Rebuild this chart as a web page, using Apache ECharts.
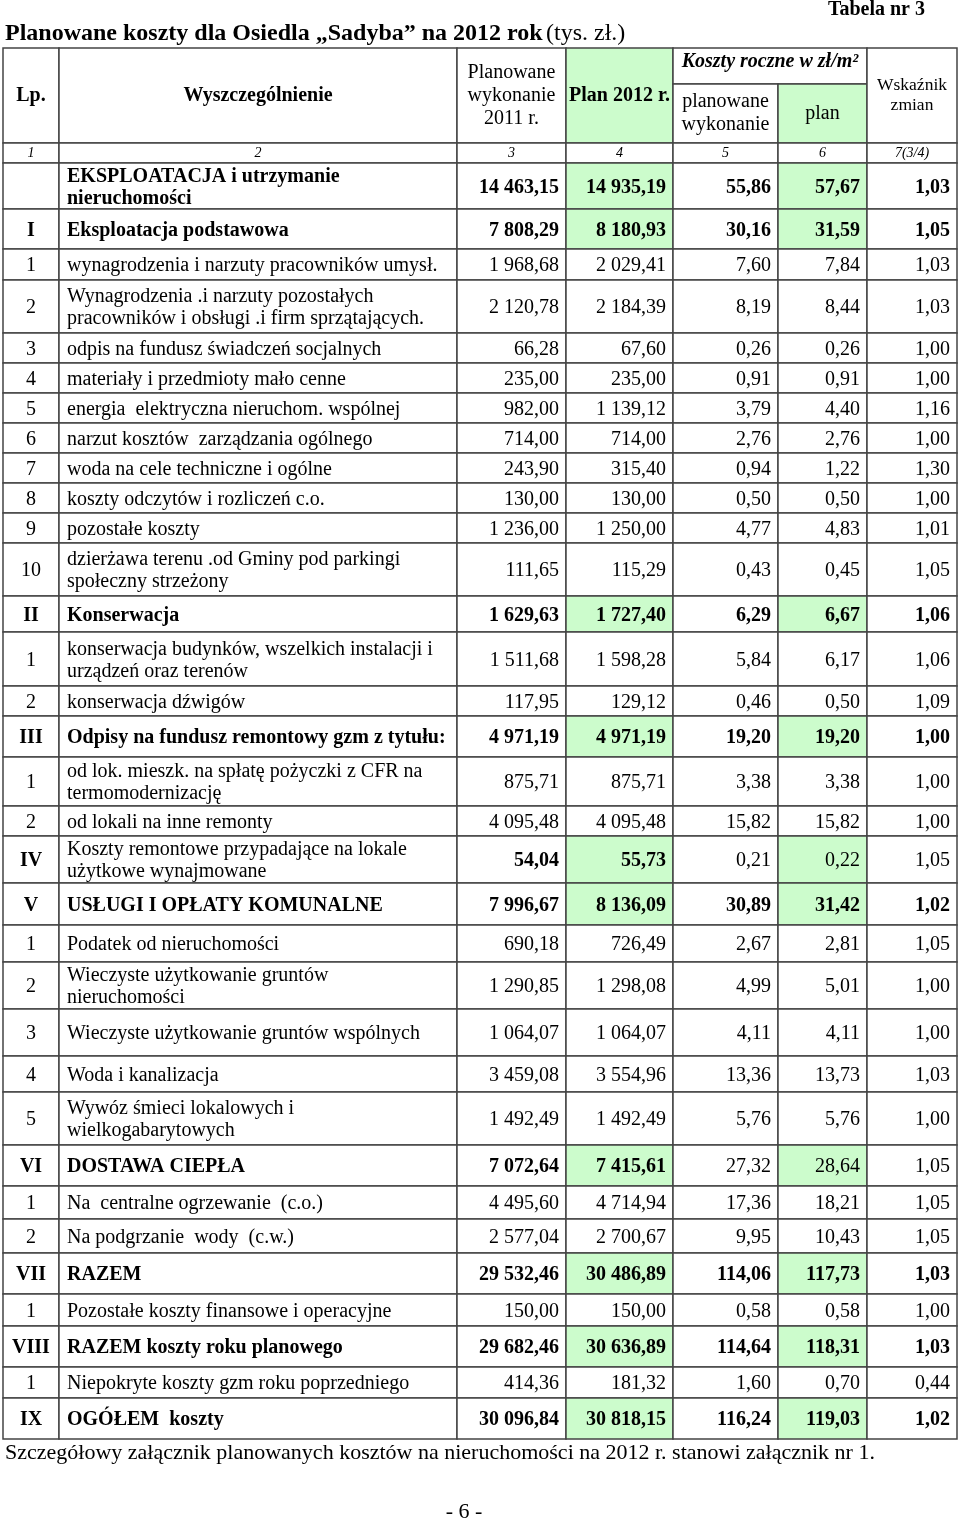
<!DOCTYPE html>
<html>
<head>
<meta charset="utf-8">
<title>Planowane koszty - Sadyba 2012</title>
<script src="https://cdn.jsdelivr.net/npm/echarts@6/dist/echarts.min.js"></script>
<style>
  html, body { margin: 0; padding: 0; background: #fff; }
  #chart { width: 960px; height: 1521px; }
</style>
</head>
<body>
<div id="chart"></div>
<script>
// --- data (tys. zł / zł/m²) ---
const lpLabels = ['', 'I', '1', '2', '3', '4', '5', '6', '7', '8', '9', '10',
  'II', '1', '2', 'III', '1', '2', 'IV', 'V', '1', '2', '3', '4', '5',
  'VI', '1', '2', 'VII', '1', 'VIII', '1', 'IX']

const itemNames = [
  'EKSPLOATACJA i utrzymanie\nnieruchomości',
  'Eksploatacja podstawowa',
  'wynagrodzenia i narzuty pracowników umysł.',
  'Wynagrodzenia .i narzuty pozostałych\npracowników i obsługi .i firm sprzątających.',
  'odpis na fundusz świadczeń socjalnych',
  'materiały i przedmioty mało cenne',
  'energia  elektryczna nieruchom. wspólnej',
  'narzut kosztów  zarządzania ogólnego',
  'woda na cele techniczne i ogólne',
  'koszty odczytów i rozliczeń c.o.',
  'pozostałe koszty',
  'dzierżawa terenu .od Gminy pod parkingi\nspołeczny strzeżony',
  'Konserwacja',
  'konserwacja budynków, wszelkich instalacji i\nurządzeń oraz terenów',
  'konserwacja dźwigów',
  'Odpisy na fundusz remontowy gzm z tytułu:',
  'od lok. mieszk. na spłatę pożyczki z CFR na\ntermomodernizację',
  'od lokali na inne remonty',
  'Koszty remontowe przypadające na lokale\nużytkowe wynajmowane',
  'USŁUGI I OPŁATY KOMUNALNE',
  'Podatek od nieruchomości',
  'Wieczyste użytkowanie gruntów\nnieruchomości',
  'Wieczyste użytkowanie gruntów wspólnych',
  'Woda i kanalizacja',
  'Wywóz śmieci lokalowych i\nwielkogabarytowych',
  'DOSTAWA CIEPŁA',
  'Na  centralne ogrzewanie  (c.o.)',
  'Na podgrzanie  wody  (c.w.)',
  'RAZEM',
  'Pozostałe koszty finansowe i operacyjne',
  'RAZEM koszty roku planowego',
  'Niepokryte koszty gzm roku poprzedniego',
  'OGÓŁEM  koszty'
]

const planned2011 = [14463.15, 7808.29, 1968.68, 2120.78, 66.28, 235.00, 982.00, 714.00, 243.90, 130.00, 1236.00, 111.65,
  1629.63, 1511.68, 117.95, 4971.19, 875.71, 4095.48, 54.04, 7996.67, 690.18, 1290.85, 1064.07, 3459.08, 1492.49,
  7072.64, 4495.60, 2577.04, 29532.46, 150.00, 29682.46, 414.36, 30096.84]

const plan2012 = [14935.19, 8180.93, 2029.41, 2184.39, 67.60, 235.00, 1139.12, 714.00, 315.40, 130.00, 1250.00, 115.29,
  1727.40, 1598.28, 129.12, 4971.19, 875.71, 4095.48, 55.73, 8136.09, 726.49, 1298.08, 1064.07, 3554.96, 1492.49,
  7415.61, 4714.94, 2700.67, 30486.89, 150.00, 30636.89, 181.32, 30818.15]

const perM2Planned = [55.86, 30.16, 7.60, 8.19, 0.26, 0.91, 3.79, 2.76, 0.94, 0.50, 4.77, 0.43,
  6.29, 5.84, 0.46, 19.20, 3.38, 15.82, 0.21, 30.89, 2.67, 4.99, 4.11, 13.36, 5.76,
  27.32, 17.36, 9.95, 114.06, 0.58, 114.64, 1.60, 116.24]

const perM2Plan = [57.67, 31.59, 7.84, 8.44, 0.26, 0.91, 4.40, 2.76, 1.22, 0.50, 4.83, 0.45,
  6.67, 6.17, 0.50, 19.20, 3.38, 15.82, 0.22, 31.42, 2.81, 5.01, 4.11, 13.73, 5.76,
  28.64, 18.21, 10.43, 117.73, 0.58, 118.31, 0.70, 119.03]

const changeIndex = [1.03, 1.05, 1.03, 1.03, 1.00, 1.00, 1.16, 1.00, 1.30, 1.00, 1.01, 1.05,
  1.06, 1.06, 1.09, 1.00, 1.00, 1.00, 1.05, 1.02, 1.05, 1.00, 1.00, 1.03, 1.00,
  1.05, 1.05, 1.05, 1.03, 1.00, 1.03, 0.44, 1.02]

// row kind -> which columns are bold (S = section total)
const rowKinds = ['S', 'S', 'n', 'n', 'n', 'n', 'n', 'n', 'n', 'n', 'n', 'n',
  'S', 'n', 'n', 'S', 'n', 'n', 'IV', 'S', 'n', 'n', 'n', 'n', 'n',
  'VI', 'n', 'n', 'S', 'n', 'S', 'n', 'S']

const columnNumbers = ['1', '2', '3', '4', '5', '6', '7(3/4)']

// --- layout / style ---
const FONT = '"Liberation Serif", "Times New Roman", serif'
const GREEN = '#ccfccc'
const BORDER = '#444'
const COL_X = [3, 59, 457, 566, 673, 778, 867, 957]
const HEAD_Y = [48, 84, 143, 163]
const ROW_H = [46, 40, 31, 53, 30, 30, 30, 30, 30, 30, 30, 53, 36, 54, 30, 41, 49, 30, 47, 42, 37, 47, 47, 36, 53, 41, 33, 34, 41, 32, 41, 31, 41]
const BOLD = {
  S: [1, 1, 1, 1, 1, 1, 1],
  IV: [1, 0, 1, 1, 0, 0, 0],
  VI: [1, 1, 1, 1, 0, 0, 0],
  n: [0, 0, 0, 0, 0, 0, 0]
}

function fmt (v) {
  const parts = v.toFixed(2).split('.')
  return parts[0].replace(/\B(?=(\d{3})+(?!\d))/g, ' ') + ',' + parts[1]
}

let rowData = []
let y = HEAD_Y[3]
ROW_H.forEach((h, i) => {
  rowData.push([i, y, y + h])
  y += h
})

function cellRect (api, x0, y0, x1, y1, fill) {
  const p0 = api.coord([x0, y0])
  const p1 = api.coord([x1, y1])
  return {
    type: 'rect',
    shape: { x: p0[0], y: p0[1], width: p1[0] - p0[0], height: p1[1] - p0[1] },
    style: { fill: fill || '#fff', stroke: BORDER, lineWidth: 1.5 }
  }
}

function cellText (api, text, x, y, opts) {
  const p = api.coord([x, y])
  return {
    type: 'text',
    style: Object.assign({
      text: text,
      x: p[0],
      y: p[1],
      align: 'center',
      verticalAlign: 'middle',
      fontFamily: FONT,
      fontSize: 20,
      fontWeight: 'normal',
      lineHeight: 22,
      fill: '#000'
    }, opts)
  }
}

function renderHeader (params, api) {
  const X = COL_X
  const Y = HEAD_Y
  const mid = (a, b) => (a + b) / 2
  const ch = []
  ch.push(cellRect(api, X[0], Y[0], X[1], Y[2]))
  ch.push(cellRect(api, X[1], Y[0], X[2], Y[2]))
  ch.push(cellRect(api, X[2], Y[0], X[3], Y[2]))
  ch.push(cellRect(api, X[3], Y[0], X[4], Y[2], GREEN))
  ch.push(cellRect(api, X[4], Y[0], X[6], Y[1]))
  ch.push(cellRect(api, X[4], Y[1], X[5], Y[2]))
  ch.push(cellRect(api, X[5], Y[1], X[6], Y[2], GREEN))
  ch.push(cellRect(api, X[6], Y[0], X[7], Y[2]))
  ch.push(cellText(api, 'Lp.', mid(X[0], X[1]), mid(Y[0], Y[2]), { fontWeight: 'bold' }))
  ch.push(cellText(api, 'Wyszczególnienie', mid(X[1], X[2]), mid(Y[0], Y[2]), { fontWeight: 'bold' }))
  ch.push(cellText(api, 'Planowane\nwykonanie\n2011 r.', mid(X[2], X[3]), mid(Y[0], Y[2]), { lineHeight: 23 }))
  ch.push(cellText(api, 'Plan 2012 r.', mid(X[3], X[4]), mid(Y[0], Y[2]), { fontWeight: 'bold' }))
  ch.push(cellText(api, 'Koszty roczne w zł/m²', mid(X[4], X[6]), mid(Y[0], Y[1]) - 4, { fontWeight: 'bold', fontStyle: 'italic' }))
  ch.push(cellText(api, 'planowane\nwykonanie', mid(X[4], X[5]), mid(Y[1], Y[2]), { lineHeight: 23 }))
  ch.push(cellText(api, 'plan', mid(X[5], X[6]), mid(Y[1], Y[2])))
  ch.push(cellText(api, 'Wskaźnik\nzmian', mid(X[6], X[7]), mid(Y[0], Y[2]), { fontSize: 17.5, lineHeight: 20 }))
  // column number row
  for (let c = 0; c < 7; c++) {
    ch.push(cellRect(api, X[c], Y[2], X[c + 1], Y[3]))
    ch.push(cellText(api, columnNumbers[c], mid(X[c], X[c + 1]), mid(Y[2], Y[3]), { fontSize: 14, fontStyle: 'italic' }))
  }
  return { type: 'group', children: ch }
}

function renderRow (params, api) {
  const i = api.value(0)
  const top = api.value(1)
  const bottom = api.value(2)
  const kind = rowKinds[i]
  const bold = BOLD[kind]
  const cells = [lpLabels[i], itemNames[i], fmt(planned2011[i]), fmt(plan2012[i]),
    fmt(perM2Planned[i]), fmt(perM2Plan[i]), fmt(changeIndex[i])]
  // text sits a touch below the geometric middle, as in the scan
  const cy = (top + bottom) / 2 + 1.5
  const ch = []
  for (let c = 0; c < 7; c++) {
    const green = kind !== 'n' && (c === 3 || c === 5)
    ch.push(cellRect(api, COL_X[c], top, COL_X[c + 1], bottom, green ? GREEN : null))
    let tx, align
    if (c === 0) {
      tx = (COL_X[0] + COL_X[1]) / 2
      align = 'center'
    } else if (c === 1) {
      tx = COL_X[1] + 8
      align = 'left'
    } else {
      tx = COL_X[c + 1] - 7
      align = 'right'
    }
    ch.push(cellText(api, cells[c], tx, cy, { align: align, fontWeight: bold[c] ? 'bold' : 'normal' }))
  }
  return { type: 'group', children: ch }
}

const chart = echarts.init(document.getElementById('chart'))
const option = {
  animation: false,
  backgroundColor: '#fff',
  grid: { left: 0, right: 0, top: 0, bottom: 0 },
  xAxis: { type: 'value', min: 0, max: 960, show: false },
  yAxis: { type: 'value', min: 0, max: 1521, inverse: true, show: false },
  graphic: [
    {
      type: 'text',
      x: 5,
      y: 34,
      style: {
        text: '{b|Planowane koszty dla Osiedla „Sadyba” na 2012 rok} {n|(tys. zł.)}',
        verticalAlign: 'middle',
        rich: {
          b: { fontFamily: FONT, fontSize: 24, fontWeight: 'bold', fill: '#000' },
          n: { fontFamily: FONT, fontSize: 24, fill: '#000' }
        }
      }
    },
    {
      type: 'text',
      x: 925,
      y: 10,
      style: { text: 'Tabela nr 3', align: 'right', verticalAlign: 'middle', fontFamily: FONT, fontSize: 20, fontWeight: 'bold', fill: '#000' }
    },
    {
      type: 'text',
      x: 5,
      y: 1453,
      style: { text: 'Szczegółowy załącznik planowanych kosztów na nieruchomości na 2012 r. stanowi załącznik nr 1.', verticalAlign: 'middle', fontFamily: FONT, fontSize: 22, fill: '#000' }
    },
    {
      type: 'text',
      x: 464,
      y: 1512,
      style: { text: '- 6 -', align: 'center', verticalAlign: 'middle', fontFamily: FONT, fontSize: 22, fill: '#000' }
    }
  ],
  series: [
    {
      type: 'custom',
      name: 'header',
      silent: true,
      clip: false,
      data: [[0, HEAD_Y[0], HEAD_Y[3]]],
      renderItem: renderHeader
    },
    {
      type: 'custom',
      name: 'rows',
      silent: true,
      clip: false,
      data: rowData,
      renderItem: renderRow
    }
  ]
}
chart.setOption(option)
window.addEventListener('resize', () => chart.resize())
</script>
</body>
</html>
